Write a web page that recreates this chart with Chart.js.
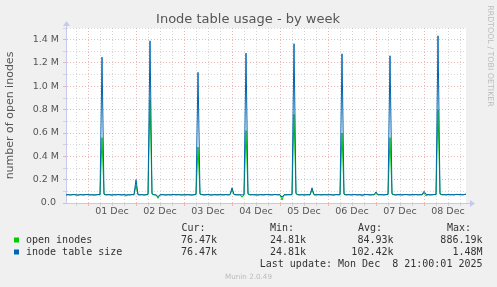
<!DOCTYPE html>
<html>
<head>
<meta charset="utf-8">
<script src="https://cdn.jsdelivr.net/npm/chart.js@4/dist/chart.umd.min.js"></script>
<style>
  html, body { margin: 0; padding: 0; background: #f0f0f0; }
  canvas { display: block; }
</style>
</head>
<body>
<canvas id="inodeChart" width="497" height="287"></canvas>
<script>
/* =========================
   DATA (values in thousands, one sample per hour)
   hour 0 = 01 Dec 00:00, window runs 30 Nov 13:00 -> 08 Dec 21:00
========================= */

const firstHour = -11;
const lastHour = 189;

const dayLabels = ["01 Dec", "02 Dec", "03 Dec", "04 Dec", "05 Dec", "06 Dec", "07 Dec", "08 Dec"];

// inode table size (blue)
const tableSize = [
  70, 72, 69, 71, 73, 70, 68, 72, 71, 70, 73,
  72, 70, 71, 69, 70, 73, 71, 1250, 78, 70, 72, 71, 69, 72, 70, 73, 71, 70, 72, 69, 71, 70, 73, 71,
  200, 72, 70, 72, 69, 71, 73, 1390, 80, 71, 70, 55, 70, 72, 71, 69, 72, 70, 71, 73, 70, 72, 71, 70,
  71, 70, 72, 70, 69, 71, 74, 1120, 78, 72, 70, 71, 73, 70, 69, 72, 71, 70, 72, 71, 70, 73, 70, 72,
  130, 74, 71, 70, 72, 69, 71, 1285, 80, 70, 72, 71, 70, 69, 72, 71, 70, 73, 72, 71, 70, 72, 73, 70,
  72, 50, 71, 70, 72, 71, 73, 1365, 82, 71, 70, 72, 69, 71, 72, 70, 130, 71, 70, 72, 71, 70, 72, 71,
  71, 72, 70, 69, 73, 71, 72, 1279, 78, 70, 72, 71, 70, 73, 71, 70, 72, 69, 71, 73, 72, 70, 71, 72,
  95, 70, 72, 71, 70, 72, 73, 1262, 80, 71, 70, 72, 71, 70, 72, 73, 71, 70, 72, 71, 73, 70, 72, 71,
  100, 75, 72, 70, 71, 73, 72, 1433, 80, 71, 72, 70, 73, 71, 72, 70, 74, 73, 72, 71, 72, 76
];

// open inodes (green)
const openInodes = [
  68, 71, 69, 70, 72, 69, 66, 71, 70, 69, 72,
  71, 69, 70, 68, 69, 72, 70, 560, 74, 69, 71, 70, 66, 71, 69, 72, 70, 69, 71, 60, 70, 69, 72, 70,
  150, 71, 69, 71, 68, 70, 72, 886, 76, 70, 69, 40, 69, 71, 70, 68, 71, 69, 70, 72, 69, 71, 70, 69,
  70, 69, 71, 69, 68, 70, 72, 480, 75, 71, 69, 70, 72, 69, 68, 71, 70, 69, 71, 70, 69, 72, 69, 71,
  110, 72, 70, 69, 71, 50, 70, 620, 76, 69, 71, 70, 69, 68, 71, 70, 69, 72, 71, 70, 69, 71, 72, 69,
  71, 25, 70, 69, 71, 70, 72, 760, 78, 70, 69, 71, 68, 70, 71, 69, 110, 70, 69, 71, 70, 69, 71, 70,
  70, 71, 69, 68, 72, 70, 71, 600, 75, 69, 71, 70, 69, 72, 70, 69, 71, 60, 70, 72, 71, 69, 70, 71,
  80, 69, 71, 70, 69, 71, 72, 560, 76, 70, 69, 71, 70, 69, 71, 72, 70, 69, 71, 70, 72, 69, 71, 70,
  85, 60, 71, 69, 70, 72, 71, 800, 76, 70, 71, 69, 72, 70, 71, 69, 73, 72, 71, 70, 71, 76
];

const hours = Array.from({ length: lastHour - firstHour + 1 }, (_, i) => firstHour + i);

const statHeaders = ["Cur:", "Min:", "Avg:", "Max:"];
const openStats = ["76.47k", "24.81k", "84.93k", "886.19k"];
const tableStats = ["76.47k", "24.81k", "102.42k", "1.48M"];

/* ---------- colours ---------- */
const GREEN = "#00cc00";
const BLUE = "#0066b3";
const MAJOR = "rgba(232,160,160,0.75)";
const MINOR = "rgba(200,200,200,0.7)";
const AXIS = "#c8c8ee";
const TEXT = "#555555";

const toPoints = arr => hours.map((h, i) => ({ x: h, y: arr[i] * 1000 }));

/* ---------- munin decorations ---------- */
const muninPlugin = {
  id: "munin",
  beforeDraw(chart) {
    const { ctx, chartArea: a } = chart;
    ctx.save();
    ctx.fillStyle = "#ffffff";
    ctx.fillRect(a.left, a.top, a.right - a.left, a.bottom - a.top);
    ctx.restore();
  },
  afterDraw(chart) {
    const { ctx, chartArea: a } = chart;
    ctx.save();

    // title (munin centres it on the whole image)
    ctx.fillStyle = TEXT;
    ctx.font = "13px 'DejaVu Sans'";
    ctx.textAlign = "center";
    ctx.textBaseline = "middle";
    ctx.fillText("Inode table usage - by week", 248, 20);

    // axis extensions + arrows
    ctx.strokeStyle = AXIS;
    ctx.fillStyle = AXIS;
    ctx.lineWidth = 1;
    ctx.beginPath();
    ctx.moveTo(a.left + 0.5, a.top);
    ctx.lineTo(a.left + 0.5, a.top - 3);
    ctx.moveTo(a.right, a.bottom + 0.5);
    ctx.lineTo(a.right + 4, a.bottom + 0.5);
    ctx.stroke();
    ctx.beginPath();
    ctx.moveTo(a.left + 0.5, a.top - 7);
    ctx.lineTo(a.left - 3, a.top - 2);
    ctx.lineTo(a.left + 4, a.top - 2);
    ctx.closePath();
    ctx.fill();
    ctx.beginPath();
    ctx.moveTo(a.right + 9, a.bottom + 0.5);
    ctx.lineTo(a.right + 4, a.bottom - 3);
    ctx.lineTo(a.right + 4, a.bottom + 4);
    ctx.closePath();
    ctx.fill();

    // legend table
    ctx.font = "10px 'DejaVu Sans Mono'";
    ctx.fillStyle = "#333333";
    const headX = [181.5, 270, 358, 447];
    const valX = [217, 306, 393.5, 482.5];
    ctx.textAlign = "left";
    statHeaders.forEach((h, i) => ctx.fillText(h, headX[i], 228));

    const rows = [
      { label: "open inodes", color: GREEN, stats: openStats, y: 240 },
      { label: "inode table size", color: BLUE, stats: tableStats, y: 252 }
    ];
    rows.forEach(r => {
      ctx.fillStyle = r.color;
      ctx.fillRect(14, r.y - 2.5, 5, 5);
      ctx.fillStyle = "#333333";
      ctx.textAlign = "left";
      ctx.fillText(r.label, 26, r.y);
      ctx.textAlign = "right";
      r.stats.forEach((s, i) => ctx.fillText(s, valX[i], r.y));
    });
    ctx.textAlign = "right";
    ctx.fillText("Last update: Mon Dec  8 21:00:01 2025", 482.5, 264);

    // footer + vertical watermark
    ctx.fillStyle = "#bbbbbb";
    ctx.font = "7.2px 'DejaVu Sans'";
    ctx.textAlign = "center";
    ctx.fillText("Munin 2.0.49", 248.5, 277);

    ctx.translate(490, 56);
    ctx.rotate(Math.PI / 2);
    ctx.font = "7.9px 'DejaVu Sans'";
    ctx.fillText("RRDTOOL / TOBI OETIKER", 0, 0);
    ctx.restore();
  }
};

new Chart(document.getElementById("inodeChart"), {
  type: "line",
  data: {
    datasets: [
      {
        label: "inode table size",
        data: toPoints(tableSize),
        borderColor: BLUE,
        borderWidth: 1,
        pointRadius: 0,
        tension: 0
      },
      {
        label: "open inodes",
        data: toPoints(openInodes),
        borderColor: GREEN,
        borderWidth: 1,
        pointRadius: 0,
        tension: 0
      }
    ]
  },
  options: {
    responsive: false,
    animation: false,
    devicePixelRatio: 1,
    layout: {
      padding: { left: 0, top: 28, right: 31, bottom: 64 }
    },
    plugins: {
      legend: { display: false },
      tooltip: { enabled: false },
      title: { display: false }
    },
    scales: {
      x: {
        type: "linear",
        min: firstHour,
        max: lastHour,
        afterFit: s => { s.height = 20; },
        ticks: {
          stepSize: 6,
          includeBounds: false,
          autoSkip: false,
          maxRotation: 0,
          padding: 0,
          color: TEXT,
          font: { family: "DejaVu Sans", size: 9.5 },
          callback: v => (((v % 24) + 24) % 24 === 12 ? dayLabels[(v - 12) / 24] || "" : "")
        },
        grid: {
          color: ctx => (ctx.tick && ctx.tick.value % 24 === 0 ? MAJOR : MINOR),
          tickColor: ctx => (ctx.tick && ctx.tick.value % 24 === 0 ? MAJOR : MINOR),
          tickLength: 3
        },
        border: { color: AXIS, dash: [1, 2] }
      },
      y: {
        min: 0,
        max: 1500000,
        afterFit: s => { s.width = 66; },
        ticks: {
          stepSize: 100000,
          autoSkip: false,
          padding: 4,
          color: TEXT,
          font: { family: "DejaVu Sans", size: 9.5 },
          callback: v => {
            if (v % 200000 !== 0) return "";
            return v === 0 ? "0.0 " : (v / 1e6).toFixed(1) + " M";
          }
        },
        grid: {
          color: ctx => (ctx.tick && ctx.tick.value % 200000 === 0 ? MAJOR : MINOR),
          tickColor: ctx => (ctx.tick && ctx.tick.value % 200000 === 0 ? MAJOR : MINOR),
          tickLength: 3
        },
        border: { color: AXIS, dash: [1, 2] },
        title: {
          display: true,
          text: "number of open inodes",
          color: TEXT,
          font: { family: "DejaVu Sans", size: 11 }
        }
      }
    }
  },
  plugins: [muninPlugin]
});
</script>
</body>
</html>
